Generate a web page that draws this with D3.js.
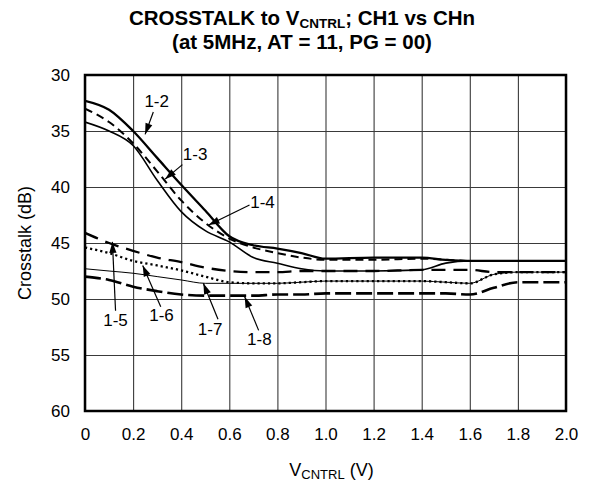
<!DOCTYPE html>
<html><head><meta charset="utf-8">
<script src="https://cdn.jsdelivr.net/npm/d3@7"></script>
<style>
html,body{margin:0;padding:0;background:#fff;}
text{font-family:"Liberation Sans",Arial,Helvetica,sans-serif;fill:#000;}
</style></head>
<body>
<svg id="chart" width="603" height="484"></svg>
<script>
// ---- data ----
const voltage = [0, 0.1, 0.2, 0.3, 0.4, 0.5, 0.6, 0.7, 0.8, 0.9, 1.0, 1.2, 1.4, 1.5, 1.6, 1.7, 1.8, 2.0];
const ch1_2 = [32.3, 33.1, 35.0, 37.4, 39.8, 42.1, 44.4, 45.2, 45.5, 45.9, 46.4, 46.3, 46.3, 46.5, 46.6, 46.6, 46.6, 46.6];
const ch1_3 = [33.0, 34.2, 36.1, 38.6, 41.2, 43.2, 44.6, 45.4, 45.9, 46.3, 46.5, 46.5, 46.4, 46.5, 46.6, 46.6, 46.6, 46.6];
const ch1_4 = [34.2, 35.0, 36.3, 39.4, 42.2, 43.9, 44.9, 46.3, 46.8, 47.3, 47.5, 47.5, 47.4, 46.8, 46.6, 46.6, 46.6, 46.6];
const ch1_5 = [44.1, 45.0, 45.7, 46.3, 46.7, 47.2, 47.5, 47.6, 47.6, 47.5, 47.5, 47.5, 47.4, 47.4, 47.4, 47.6, 47.6, 47.6];
const ch1_6 = [45.4, 45.9, 46.6, 47.0, 47.45, 48.0, 48.5, 48.6, 48.6, 48.5, 48.4, 48.4, 48.4, 48.5, 48.6, 47.8, 47.6, 47.6];
const ch1_7 = [47.3, 47.5, 47.7, 48.0, 48.3, 48.6, 48.6, 48.6, 48.6, 48.5, 48.4, 48.4, 48.4, 48.5, 48.6, 47.8, 47.6, 47.6];
const ch1_8 = [48.0, 48.3, 48.9, 49.3, 49.6, 49.7, 49.7, 49.7, 49.6, 49.6, 49.5, 49.5, 49.5, 49.5, 49.6, 49.0, 48.5, 48.5];
const seriesNames = ["1-2", "1-3", "1-4", "1-5", "1-6", "1-7", "1-8"];
const xTickValues = [0, 0.2, 0.4, 0.6, 0.8, 1.0, 1.2, 1.4, 1.6, 1.8, 2.0];
const xTickLabels = ["0", "0.2", "0.4", "0.6", "0.8", "1.0", "1.2", "1.4", "1.6", "1.8", "2.0"];
const yTickValues = [30, 35, 40, 45, 50, 55, 60];
const yTickLabels = ["30", "35", "40", "45", "50", "55", "60"];
// label anchors in data units (V, dB)
const labelText = ["1-2", "1-3", "1-4", "1-5", "1-6", "1-7", "1-8"];
const labelAt   = [[0.298, 32.4], [0.458, 37.1], [0.738, 41.4], [0.127, 51.9], [0.318, 51.5], [0.52, 52.7], [0.725, 53.6]];
const arrowFrom = [[0.284, 33.3], [0.405, 38.0], [0.684, 41.6], [0.127, 51.05], [0.315, 50.7], [0.553, 51.8], [0.722, 52.8]];
const arrowTip  = [[0.250, 35.3], [0.333, 39.3], [0.514, 43.4], [0.114, 44.9], [0.240, 47.0], [0.492, 48.6], [0.664, 49.8]];

// ---- layout ----
const W = 603, H = 484;
const mLeft = 85, mRight = 566, mTop = 75, mBottom = 411;
const svg = d3.select("#chart");
svg.append("rect").attr("width", W).attr("height", H).attr("fill", "#fff");

const x = d3.scaleLinear().domain([0, 2]).range([mLeft, mRight]);
const y = d3.scaleLinear().domain([30, 60]).range([mTop, mBottom]);

// grid + tick labels via axes
const xAxis = svg.append("g").attr("transform", `translate(0,${mBottom})`)
  .call(d3.axisBottom(x).tickValues(xTickValues)
    .tickFormat((d, i) => xTickLabels[i])
    .tickSize(-(mBottom - mTop)).tickPadding(17));
const yAxis = svg.append("g").attr("transform", `translate(${mLeft},0)`)
  .call(d3.axisLeft(y).tickValues(yTickValues)
    .tickFormat((d, i) => yTickLabels[i])
    .tickSize(-(mRight - mLeft)).tickPadding(15));
[xAxis, yAxis].forEach(g => {
  g.select(".domain").remove();
  g.selectAll(".tick line").attr("stroke", "#3a3a3a").attr("stroke-width", 1.1);
  g.selectAll(".tick text").attr("font-size", 17)
    .attr("font-family", '"Liberation Sans", Arial, sans-serif').attr("fill", "#000");
});

// series lines
const seriesData = [ch1_2, ch1_3, ch1_4, ch1_5, ch1_6, ch1_7, ch1_8];
const styles = [
  {w: 2.3, dash: null},
  {w: 2.0, dash: "8,5"},
  {w: 1.6, dash: null},
  {w: 2.3, dash: "14,8"},
  {w: 2.3, dash: "2.2,3"},
  {w: 1.0, dash: null},
  {w: 2.6, dash: "16,5"}
];
const line = d3.line().x(d => x(d[0])).y(d => y(d[1])).curve(d3.curveMonotoneX);
const plot = svg.append("g");
plot.append("clipPath").attr("id", "clip").append("rect")
  .attr("x", mLeft).attr("y", mTop).attr("width", mRight - mLeft).attr("height", mBottom - mTop);
seriesData.forEach((vals, i) => {
  const pts = voltage.map((v, j) => [v, vals[j]]);
  plot.append("path").datum(pts)
    .attr("clip-path", "url(#clip)")
    .attr("fill", "none").attr("stroke", "#000")
    .attr("stroke-width", styles[i].w)
    .attr("stroke-dasharray", styles[i].dash)
    .attr("stroke-linejoin", "round")
    .attr("d", line)
    .attr("class", "series");
});

// frame
svg.append("rect").attr("x", mLeft).attr("y", mTop)
  .attr("width", mRight - mLeft).attr("height", mBottom - mTop)
  .attr("fill", "none").attr("stroke", "#000").attr("stroke-width", 2.5);

// labels with arrows
const ann = svg.append("g");
labelText.forEach((t, i) => {
  ann.append("text").attr("x", x(labelAt[i][0])).attr("y", y(labelAt[i][1]))
    .attr("text-anchor", "middle").attr("dominant-baseline", "central")
    .attr("font-size", 17).text(t);
  const x1 = x(arrowFrom[i][0]), y1 = y(arrowFrom[i][1]);
  const x2 = x(arrowTip[i][0]), y2 = y(arrowTip[i][1]);
  ann.append("line").attr("x1", x1).attr("y1", y1).attr("x2", x2).attr("y2", y2)
    .attr("stroke", "#000").attr("stroke-width", 1.2);
  const a = Math.atan2(y2 - y1, x2 - x1), L = 11, hw = 3.6;
  const bx = x2 - L * Math.cos(a), by = y2 - L * Math.sin(a);
  const px = -Math.sin(a) * hw, py = Math.cos(a) * hw;
  ann.append("polygon")
    .attr("points", `${x2},${y2} ${bx + px},${by + py} ${bx - px},${by - py}`)
    .attr("fill", "#000");
});

// axis titles
svg.append("text").attr("transform", `translate(25,${(mTop + mBottom) / 2}) rotate(-90)`)
  .attr("text-anchor", "middle").attr("dominant-baseline", "central")
  .attr("font-size", 18).text("Crosstalk (dB)");
const xt = svg.append("text").attr("x", (mLeft + mRight) / 2 + 6).attr("y", 476)
  .attr("text-anchor", "middle").attr("font-size", 18);
xt.append("tspan").text("V");
xt.append("tspan").attr("font-size", 13).attr("dy", 3).text("CNTRL");
xt.append("tspan").attr("dy", -3).text(" (V)");

// title
const t1 = svg.append("text").attr("x", 302).attr("y", 25)
  .attr("text-anchor", "middle").attr("font-size", 20.5).attr("font-weight", "bold");
t1.append("tspan").text("CROSSTALK to V");
t1.append("tspan").attr("font-size", 13.5).attr("dy", 3).text("CNTRL");
t1.append("tspan").attr("dy", -3).text("; CH1 vs CHn");
svg.append("text").attr("x", 302).attr("y", 49)
  .attr("text-anchor", "middle").attr("font-size", 20.5).attr("font-weight", "bold")
  .text("(at 5MHz, AT = 11, PG = 00)");
</script>
</body></html>
